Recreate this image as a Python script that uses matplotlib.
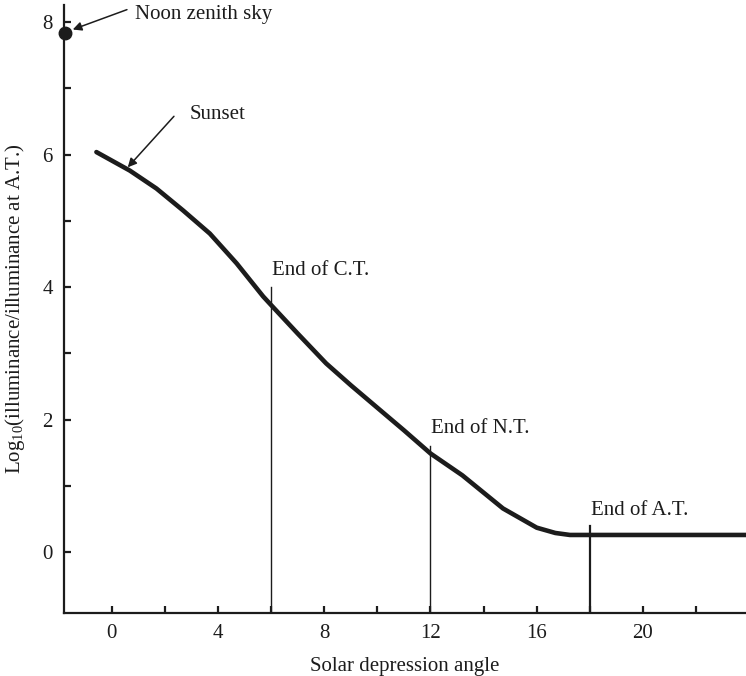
import matplotlib
matplotlib.use("Agg")
import matplotlib.pyplot as plt

plt.rcParams['font.family'] = ['Liberation Serif', 'DejaVu Serif']
plt.rcParams['mathtext.fontset'] = 'custom'
plt.rcParams['mathtext.rm'] = 'Liberation Serif'
plt.rcParams['mathtext.it'] = 'Liberation Serif:italic'

# ---- data ----
curve_x = [-0.58, 0.68, 1.68, 2.68, 3.69, 4.70, 5.70, 6.0, 7.0, 8.07, 9.0, 9.97,
           11.0, 12.0, 13.2, 14.73, 16.0, 16.7, 17.25, 17.6, 24.0]
curve_y = [6.04, 5.76, 5.49, 5.16, 4.81, 4.36, 3.86, 3.73, 3.30, 2.85, 2.52, 2.19,
           1.84, 1.49, 1.16, 0.66, 0.37, 0.29, 0.26, 0.26, 0.26]

noon_x = [-1.78]
noon_y = [7.84]

twilight_angles = [6, 12, 18]
twilight_tops = [4.0, 1.6, 0.4]
twilight_widths = [1.0, 1.0, 1.6]
twilight_labels = ["End of C.T.", "End of N.T.", "End of A.T."]
twilight_label_y = [4.25, 1.87, 0.63]

notes = ["Noon zenith sky", "Sunset"]
note_pos = [(0.87, 8.11), (2.94, 6.6)]
arrow_tail = [(0.57, 8.19), (2.34, 6.58)]
arrow_tip = [(-1.47, 7.89), (0.6, 5.81)]

x_major = [0, 4, 8, 12, 16, 20]
x_minor = [2, 6, 10, 14, 18, 22]
y_major = [0, 2, 4, 6, 8]
y_minor = [1, 3, 5, 7]

ink = '#1c1c1c'
fs = 15

fig = plt.figure(figsize=(7.46, 6.76), dpi=100)
ax = fig.add_axes([0.0858, 0.093, 0.9142, 0.8996])
ax.set_xlim(-1.8, 23.88)
ax.set_ylim(-0.92, 8.26)

ax.plot(curve_x, curve_y, color=ink, lw=3.3, solid_capstyle='round',
        solid_joinstyle='round', clip_on=True)
ax.plot(noon_x, noon_y, 'o', color=ink, markersize=9, clip_on=False, zorder=5)

ybot = ax.get_ylim()[0]
for xa, top, w, lab, ly in zip(twilight_angles, twilight_tops, twilight_widths,
                                twilight_labels, twilight_label_y):
    ax.plot([xa, xa], [ybot, top], color=ink, lw=w)
    ax.text(xa + 0.03, ly, lab, fontsize=fs, color=ink, ha='left', va='center')

for txt, pos, tail, tip in zip(notes, note_pos, arrow_tail, arrow_tip):
    ax.text(pos[0], pos[1], txt, fontsize=fs, color=ink, ha='left', va='center')
    ax.annotate("", xy=tip, xytext=tail, annotation_clip=False,
                arrowprops=dict(arrowstyle='-|>', lw=1.1, color=ink,
                                mutation_scale=13, shrinkA=0, shrinkB=0))

for s in ['top', 'right']:
    ax.spines[s].set_visible(False)
for s in ['left', 'bottom']:
    ax.spines[s].set_linewidth(1.6)
    ax.spines[s].set_color(ink)

ax.set_xticks(x_major)
ax.set_xticks(x_minor, minor=True)
ax.set_yticks(y_major)
ax.set_yticks(y_minor, minor=True)
ax.tick_params(which='both', direction='in', length=5, width=1.6, color=ink,
               labelsize=fs, labelcolor=ink, pad=8)

ax.set_xlabel("Solar depression angle", fontsize=fs, color=ink, labelpad=10)
ax.set_ylabel(r"Log$_{\mathrm{10}}$(illuminance/illuminance at A.T.)", fontsize=fs, color=ink)
ax.yaxis.set_label_coords(-0.054, 0.5)

fig.savefig("out.png", dpi=100)
